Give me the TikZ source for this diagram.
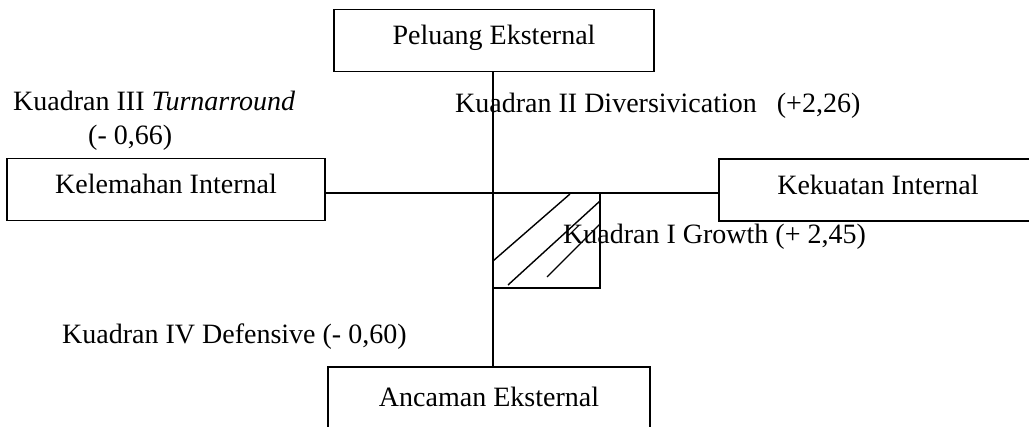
\documentclass[tikz,border=0pt]{standalone}
\usepackage{fontspec}
\setmainfont{Liberation Serif}
\usepackage{tikz}
\usetikzlibrary{positioning}

\begin{document}
\begin{tikzpicture}[x=1pt, y=-1pt,
						kotaknode/.style={draw=black, line width=1.3pt, fill=white, inner sep=0pt, minimum width=320pt, minimum height=62pt, text height=20pt, text depth=11pt},
						kuadran/.style={anchor=base west, inner sep=0pt},
						garis/.style={line width=1.4pt},
						]
						\useasboundingbox (0,0) rectangle (1029,427);
						\fontsize{28}{33}\selectfont
						%Nodes
						\node[kotaknode]      (peluang) 	at 	(494,40.5)      {Peluang Eksternal};
						\node[kotaknode, minimum width=318pt]      (kelemahan) 	at 	(166,189.5)     {Kelemahan Internal};
						\node[kotaknode, minimum width=318pt]      (kekuatan) 	at 	(878,190)       {Kekuatan Internal};
						\node[kotaknode, minimum width=322pt, minimum height=70pt]      (ancaman) 	at 	(489,402)     {Ancaman Eksternal};
						\coordinate (pusat) at (493,193);
						\coordinate (sudut) at (600,288);

						\node[kuadran]  (k3)  at (13,111)   {Kuadran III \textit{Turnarround}};
						\node[kuadran]  (k3n) at (88,145)   {(- 0,66)};
						\node[kuadran]  (k2)  at (455,113)  {Kuadran II Diversivication\hspace{20pt}(+2,26)};
						\node[kuadran]  (k1)  at (563,244)  {Kuadran I Growth (+ 2,45)};
						\node[kuadran]  (k4)  at (62,344)   {Kuadran IV Defensive (- 0,60)};

						%Lines
						\draw[garis] (peluang.south -| pusat) -- (ancaman.north -| pusat);
						\draw[garis] (kelemahan.east |- pusat) -- (kekuatan.west |- pusat);
						\draw[garis] (pusat) rectangle (sudut);

						\draw[garis] (493,261) -- (570,194);
						\draw[garis] (508,285) -- (600,201);
						\draw[garis] (547,277) -- (600,224);
					\end{tikzpicture}
\end{document}
